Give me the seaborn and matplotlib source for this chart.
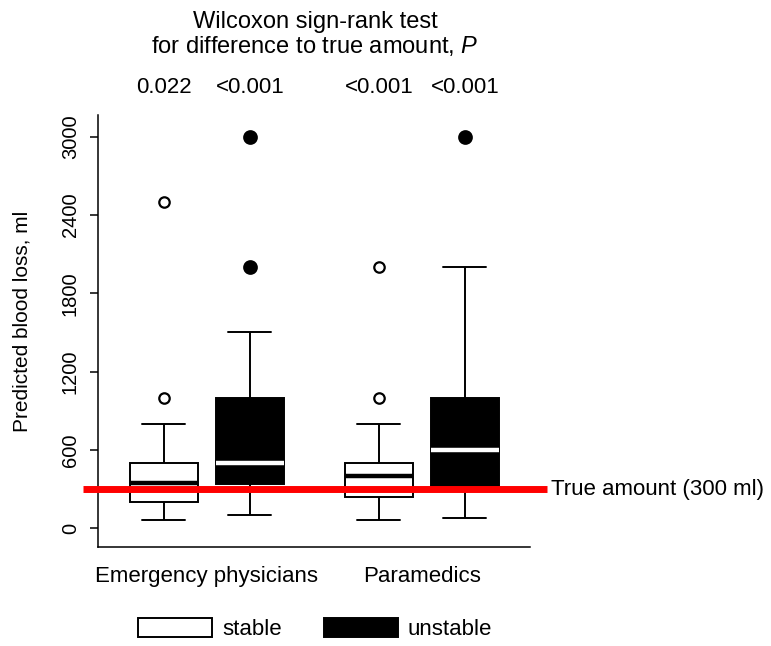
import numpy as np
import pandas as pd
import matplotlib
matplotlib.use("Agg")
import matplotlib.pyplot as plt
from matplotlib.patches import Patch
from matplotlib.transforms import blended_transform_factory
import seaborn as sns

# ---------------- data ----------------
groups = ["Emergency physicians", "Paramedics"]
group_label_pos = [1.5, 4.0]
box_condition = ["stable", "unstable", "stable", "unstable"]
positions = [1.0, 2.0, 3.5, 4.5]
whisker_low = [60, 100, 60, 80]
q1 = [200, 340, 240, 300]
median = [350, 500, 400, 600]
q3 = [500, 1000, 500, 1000]
whisker_high = [800, 1500, 800, 2000]
outliers = [[1000, 2500], [2000, 3000], [1000, 2000], [3000]]
p_values = ["0.022", "<0.001", "<0.001", "<0.001"]
true_amount = 300
yticks = [0, 600, 1200, 1800, 2400, 3000]


def sample_from_summary(lo, a, m, b, hi, outs):
    """Build a small sample whose box-plot statistics are exactly
    (lo, a, m, b, hi) with the given outliers (linear quantiles)."""
    k = len(outs)
    mm = k + 1
    return [lo] + [a] * mm + [m] * mm + [b] * mm + [hi] * (mm - k) + list(outs)


rows = []
for i in range(len(positions)):
    vals = sample_from_summary(whisker_low[i], q1[i], median[i], q3[i],
                               whisker_high[i], outliers[i])
    for v in vals:
        rows.append({"pos": positions[i], "condition": box_condition[i], "value": v})
df = pd.DataFrame(rows)

# ---------------- style ----------------
sns.set_theme(style="ticks")
plt.rcParams["font.family"] = ["Liberation Sans", "DejaVu Sans"]
plt.rcParams["mathtext.fontset"] = "custom"
plt.rcParams["mathtext.rm"] = "Liberation Sans"
plt.rcParams["mathtext.it"] = "Liberation Sans:italic"
for key in ["text.color", "axes.labelcolor", "xtick.color", "ytick.color",
            "xtick.labelcolor", "ytick.labelcolor", "axes.edgecolor"]:
    plt.rcParams[key] = "black"

fig = plt.figure(figsize=(7.71, 6.46), dpi=100)
ax = fig.add_axes([0.1271, 0.1533, 0.5603, 0.6687])

BOX_W = 0.78
CAP_W = 0.5
LW = 1.4

styles = {
    "stable": dict(fill="white", med="black", fface="white", fsize=7.5),
    "unstable": dict(fill="black", med="white", fface="black", fsize=9.0),
}
for cond in ["stable", "unstable"]:
    sub = df[df["condition"] == cond]
    upos = np.unique(sub["pos"])
    nw = np.min(np.diff(upos)) if len(upos) > 1 else 1.0
    st = styles[cond]
    sns.boxplot(
        data=sub, x="pos", y="value", native_scale=True,
        width=BOX_W / nw, color=st["fill"], linecolor="black",
        linewidth=LW, saturation=1,
        medianprops=dict(color=st["med"], linewidth=3.2, solid_capstyle="butt"),
        flierprops=dict(marker="o", markerfacecolor=st["fface"],
                        markeredgecolor="black", markeredgewidth=1.6,
                        markersize=st["fsize"]),
        capwidths=CAP_W,
        ax=ax,
    )

# ---------------- axes ----------------
ax.set_xlim(0.2326, 5.256)
ax.set_ylim(-143, 3166)
ax.set_yticks(yticks)
ax.set_yticklabels([str(t) for t in yticks])
ax.tick_params(axis="y", labelrotation=90, length=6, width=1.1, pad=7,
               labelsize=14.5, color="black", labelcolor="black")
for t in ax.get_yticklabels():
    t.set_va("center")
ax.set_xticks(group_label_pos)
ax.set_xticklabels(groups)
ax.tick_params(axis="x", length=0, pad=14, labelsize=16, labelcolor="black")
ax.set_xlabel("")
ax.set_ylabel("Predicted blood loss, ml", fontsize=15, color="black", va="center")
ax.yaxis.set_label_coords(-0.176, 0.522)
sns.despine(ax=ax)
for s in ["left", "bottom"]:
    ax.spines[s].set_linewidth(1.1)
    ax.spines[s].set_color("black")

# reference line for true amount
ax.plot([0.058, 5.45], [true_amount, true_amount], color="#ff0000", lw=5,
        solid_capstyle="butt", clip_on=False, zorder=10)
ax.text(5.505, true_amount, "True amount (300 ml)", ha="left", va="center",
        fontsize=16, color="black", clip_on=False)

# titles and p-values
fig.text(0.4086, 1 - 28 / 646, "Wilcoxon sign-rank test", ha="center",
         va="baseline", fontsize=17, color="black")
fig.text(0.4086, 1 - 53 / 646, r"for difference to true amount, $\it{P}$",
         ha="center", va="baseline", fontsize=17, color="black")
trans = blended_transform_factory(ax.transData, fig.transFigure)
for p, lab in zip(positions, p_values):
    ax.text(p, 1 - 93 / 646, lab, transform=trans, ha="center", va="baseline",
            fontsize=16, color="black", clip_on=False)

# legend
handles = [Patch(facecolor="white", edgecolor="black", linewidth=1.4, label="stable"),
           Patch(facecolor="black", edgecolor="black", linewidth=1.4, label="unstable")]
leg = fig.legend(handles=handles, loc="center", bbox_to_anchor=(0.4086, 1 - 629 / 646),
                 ncol=2, frameon=False, fontsize=16, handlelength=3.33,
                 handleheight=0.95, handletextpad=0.45, columnspacing=1.9,
                 borderpad=0, borderaxespad=0)
for t in leg.get_texts():
    t.set_color("black")

fig.savefig("out.png", dpi=100)
